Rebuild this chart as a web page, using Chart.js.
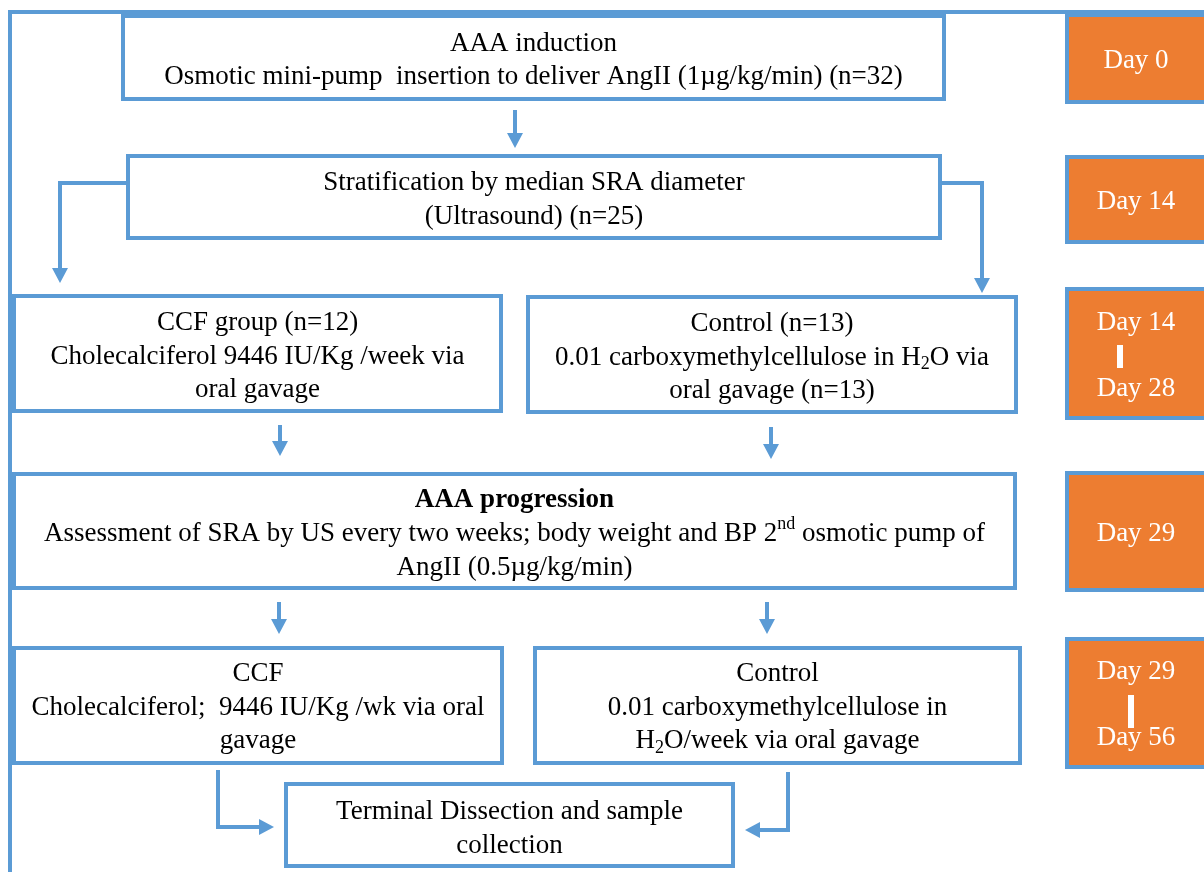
<!DOCTYPE html>
<html>
<head>
<meta charset="utf-8">
<script src="https://cdn.jsdelivr.net/npm/chart.js@4"></script>
<style>
  html, body { margin: 0; padding: 0; background: #ffffff; }
  #flow { display: block; }
</style>
</head>
<body>
<canvas id="flow" width="1204" height="872"></canvas>
<script>
// text of each step box (H_{2} = subscript, ^{nd} = superscript)
const boxLines = [
    ['AAA induction', 'Osmotic mini-pump  insertion to deliver AngII (1\u00b5g/kg/min) (n=32)'],
    ['Stratification by median SRA diameter', '(Ultrasound) (n=25)'],
    ['CCF group (n=12)', 'Cholecalciferol 9446 IU/Kg /week via', 'oral gavage'],
    ['Control (n=13)', '0.01 carboxymethylcellulose in H_{2}O via', 'oral gavage (n=13)'],
    ['AAA progression', 'Assessment of SRA by US every two weeks; body weight and BP 2^{nd} osmotic pump of', 'AngII (0.5\u00b5g/kg/min)'],
    ['CCF', 'Cholecalciferol;  9446 IU/Kg /wk via oral', 'gavage'],
    ['Control', '0.01 carboxymethylcellulose in', 'H_{2}O/week via oral gavage'],
    ['Terminal Dissection and sample', 'collection']
];
// timeline labels on the right
const dayLines = [['Day 0'], ['Day 14'], ['Day 14', 'Day 28'], ['Day 29'], ['Day 29', 'Day 56']];

// layout (diagram units = px of the 1204x872 figure)
const boxRects = [
    [123, 16, 944, 99], [128, 156, 940, 238],
    [14, 296, 501, 411], [528, 297, 1016, 412],
    [14, 474, 1015, 588],
    [14, 648, 502, 763], [535, 648, 1020, 763],
    [286, 784, 733, 866]
];
const boxShift = [3, 3, 3, 3, 3, 2, 2, 4];
const boldFirst = [false, false, false, false, true, false, false, false];
const dayRects = [[1067, 15, 1215, 102], [1067, 157, 1215, 242], [1067, 289, 1215, 418], [1067, 473, 1215, 590], [1067, 639, 1215, 767]];
const dayBars = [null, null, [1120, 345, 368], null, [1131, 695, 728]];
const frameLine = [[10, 872], [10, 12], [1204, 12]];
const connectors = [
    [[515, 110], [515, 148]],
    [[128, 183], [60, 183], [60, 283]],
    [[940, 183], [982, 183], [982, 293]],
    [[280, 425], [280, 456]],
    [[771, 427], [771, 459]],
    [[279, 602], [279, 634]],
    [[767, 602], [767, 634]],
    [[218, 770], [218, 827], [274, 827]],
    [[788, 772], [788, 830], [745, 830]]
];

const blue = '#5b9bd5';
const orange = '#ed7d31';
const fontSize = 27;
const lineGap = 33.5;
const serif = '"Liberation Serif", "Times New Roman", serif';

function richParts(str) {
    const parts = [];
    str.split(/(_\{[^}]*\}|\^\{[^}]*\})/).forEach(function (p) {
        if (!p) return;
        if (p[0] === '_') parts.push({t: p.slice(2, -1), kind: 'sub'});
        else if (p[0] === '^') parts.push({t: p.slice(2, -1), kind: 'sup'});
        else parts.push({t: p, kind: 'n'});
    });
    return parts;
}

function drawRich(ctx, str, cx, cy, bold, color) {
    const parts = richParts(str);
    const weight = bold ? 'bold ' : '';
    let total = 0;
    parts.forEach(function (p) {
        ctx.font = weight + (p.kind === 'n' ? fontSize : Math.round(fontSize * 0.65)) + 'px ' + serif;
        p.w = ctx.measureText(p.t).width;
        total += p.w;
    });
    let x = cx - total / 2;
    ctx.fillStyle = color;
    ctx.textAlign = 'left';
    ctx.textBaseline = 'middle';
    parts.forEach(function (p) {
        ctx.font = weight + (p.kind === 'n' ? fontSize : Math.round(fontSize * 0.65)) + 'px ' + serif;
        let dy = 0;
        if (p.kind === 'sub') dy = 7;
        if (p.kind === 'sup') dy = -10;
        ctx.fillText(p.t, x, cy + dy);
        x += p.w;
    });
}

const flowPlugin = {
    id: 'flow',
    beforeDatasetsDraw(chart) {
        const ctx = chart.ctx;
        const sx = chart.scales.x, sy = chart.scales.y;
        const px = v => sx.getPixelForValue(v);
        const py = v => sy.getPixelForValue(v);
        ctx.save();
        ctx.lineJoin = 'miter';

        // outer frame
        ctx.strokeStyle = blue;
        ctx.lineWidth = 4;
        ctx.beginPath();
        frameLine.forEach(function (p, i) {
            if (i === 0) ctx.moveTo(px(p[0]), py(p[1]));
            else ctx.lineTo(px(p[0]), py(p[1]));
        });
        ctx.stroke();

        // step boxes
        boxRects.forEach(function (r, i) {
            const x1 = px(r[0]), y1 = py(r[1]), x2 = px(r[2]), y2 = py(r[3]);
            ctx.fillStyle = '#ffffff';
            ctx.fillRect(x1, y1, x2 - x1, y2 - y1);
            ctx.strokeStyle = blue;
            ctx.lineWidth = 4;
            ctx.strokeRect(x1, y1, x2 - x1, y2 - y1);
            const lines = boxLines[i];
            const cx = (x1 + x2) / 2;
            const cy = (y1 + y2) / 2 + boxShift[i];
            lines.forEach(function (ln, k) {
                const y = cy + (k - (lines.length - 1) / 2) * lineGap;
                drawRich(ctx, ln, cx, y, boldFirst[i] && k === 0, '#000000');
            });
        });

        // day boxes
        dayRects.forEach(function (r, i) {
            const x1 = px(r[0]), y1 = py(r[1]), x2 = px(r[2]), y2 = py(r[3]);
            ctx.fillStyle = orange;
            ctx.fillRect(x1, y1, x2 - x1, y2 - y1);
            ctx.strokeStyle = blue;
            ctx.lineWidth = 4;
            ctx.strokeRect(x1, y1, x2 - x1, y2 - y1);
            const lines = dayLines[i];
            const cx = px(1136);
            const cy = (y1 + y2) / 2 + 2;
            lines.forEach(function (ln, k) {
                const y = lines.length === 1 ? cy : cy + (k === 0 ? -33 : 33);
                drawRich(ctx, ln, cx, y, false, '#ffffff');
            });
            const b = dayBars[i];
            if (b) {
                ctx.fillStyle = '#ffffff';
                ctx.fillRect(px(b[0]) - 3, py(b[1]), 6, py(b[2]) - py(b[1]));
            }
        });

        // connectors with arrow heads
        connectors.forEach(function (pts) {
            const n = pts.length;
            const tip = pts[n - 1], prev = pts[n - 2];
            const tx = px(tip[0]), ty = py(tip[1]);
            const dx = tx - px(prev[0]), dy = ty - py(prev[1]);
            const len = Math.hypot(dx, dy);
            const ux = dx / len, uy = dy / len;
            const head = 15, half = 8;
            ctx.strokeStyle = blue;
            ctx.lineWidth = 4;
            ctx.lineCap = 'butt';
            ctx.beginPath();
            pts.forEach(function (p, i) {
                let x = px(p[0]), y = py(p[1]);
                if (i === n - 1) { x -= ux * head; y -= uy * head; }
                if (i === 0) ctx.moveTo(x, y); else ctx.lineTo(x, y);
            });
            ctx.stroke();
            ctx.fillStyle = blue;
            ctx.beginPath();
            ctx.moveTo(tx, ty);
            ctx.lineTo(tx - ux * head - uy * half, ty - uy * head + ux * half);
            ctx.lineTo(tx - ux * head + uy * half, ty - uy * head - ux * half);
            ctx.closePath();
            ctx.fill();
        });
        ctx.restore();
    }
};

new Chart(document.getElementById('flow'), {
    type: 'scatter',
    data: {datasets: [{data: [], pointRadius: 0}]},
    options: {
        responsive: false,
        animation: false,
        devicePixelRatio: 1,
        layout: {padding: 0},
        plugins: {legend: {display: false}, tooltip: {enabled: false}},
        scales: {
            x: {type: 'linear', min: 0, max: 1204, display: false},
            y: {type: 'linear', min: 0, max: 872, reverse: true, display: false}
        }
    },
    plugins: [flowPlugin]
});
</script>
</body>
</html>
